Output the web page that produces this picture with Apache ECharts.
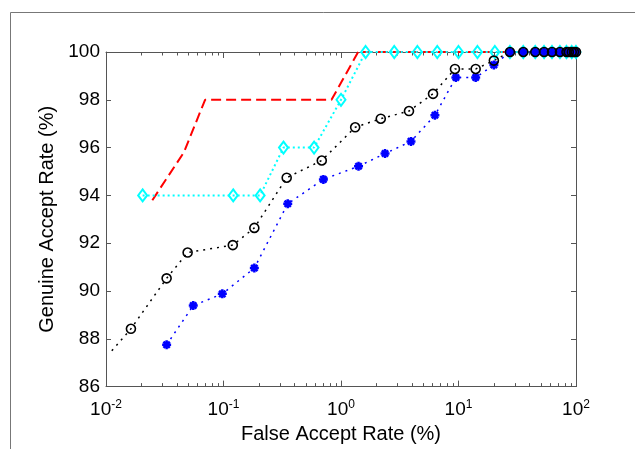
<!DOCTYPE html>
<html>
<head>
<meta charset="utf-8">
<script src="https://cdn.jsdelivr.net/npm/echarts@6/dist/echarts.min.js"></script>
<style>
  html, body { margin: 0; padding: 0; background: #fff; }
  #chart { width: 635px; height: 449px; }
</style>
</head>
<body>
<div id="chart"></div>
<script>
// [FAR %, GAR %]
var redDashed = [[0.0248, 93.8], [0.046, 95.8], [0.0697, 98], [0.83, 98], [1.4, 100], [100, 100]];
var cyanDiamonds = [[0.0205, 94], [0.121, 94], [0.205, 94], [0.324, 96], [0.59, 96], [1.0, 98], [1.62, 100],
    [2.84, 100], [4.47, 100], [6.6, 100], [10, 100], [14.5, 100], [20.4, 100], [27.4, 100], [35.6, 100],
    [45, 100], [53.5, 100], [62.5, 100], [73, 100], [83, 100], [92, 100], [100, 100]];
var blueStars = [[0.0328, 87.75], [0.0553, 89.39], [0.0977, 89.88], [0.183, 90.96], [0.352, 93.65], [0.708, 94.67],
    [1.41, 95.22], [2.37, 95.75], [3.94, 96.26], [6.3, 97.35], [9.5, 98.93], [14.0, 98.93], [20.0, 99.46],
    [27.4, 100], [35.6, 100], [45, 100], [53.5, 100], [62.5, 100], [73, 100], [83, 100], [87, 100], [92, 100], [96, 100], [100, 100]];
var blackCircles = [[0.0112, 87.5], [0.0163, 88.42], [0.0328, 90.53], [0.0495, 91.61], [0.12, 91.92], [0.183, 92.64],
    [0.345, 94.74], [0.686, 95.46], [1.32, 96.85], [2.18, 97.21], [3.79, 97.53], [6.07, 98.25], [9.33, 99.29],
    [14.0, 99.29], [20.0, 99.64], [27.4, 100], [35.6, 100], [45, 100], [53.5, 100], [62.5, 100], [73, 100],
    [83, 100], [87, 100], [92, 100], [96, 100], [100, 100]];
var minorTicks = [0.02, 0.03, 0.04, 0.05, 0.06, 0.07, 0.08, 0.09,
    0.2, 0.3, 0.4, 0.5, 0.6, 0.7, 0.8, 0.9,
    2, 3, 4, 5, 6, 7, 8, 9,
    20, 30, 40, 50, 60, 70, 80, 90];
var yMin = 86, yMax = 100, yStep = 2;

var font = "'Liberation Sans', Arial, sans-serif";
var axisCol = '#555';
var asterisk = 'path://M0,-10L0,10M-10,0L10,0M-7,-7L7,7M-7,7L7,-7';

var myChart = echarts.init(document.getElementById('chart'));

function logLabel(v) {
    var e = Math.round(Math.log(v) / Math.LN10);
    return '{b|10}{s|' + e + '}';
}

var option = {
    animation: false,
    backgroundColor: '#fff',
    graphic: [{
        type: 'rect',
        shape: { x: 10.5, y: 12.5, width: 700, height: 500 },
        style: { fill: 'none', stroke: '#777', lineWidth: 1 },
        silent: true
    }],
    grid: { left: 106, top: 52, right: 59, bottom: 61 },
    xAxis: [{
        type: 'log',
        logBase: 10,
        min: 0.01,
        max: 100,
        position: 'bottom',
        name: 'False Accept Rate (%)',
        nameLocation: 'middle',
        nameGap: 35,
        nameTextStyle: { fontFamily: font, fontSize: 20, color: '#000' },
        axisLine: { lineStyle: { color: axisCol, width: 1 } },
        axisTick: { inside: true, length: 6, lineStyle: { color: axisCol } },
        axisLabel: {
            margin: 12,
            formatter: logLabel,
            rich: {
                b: { fontFamily: font, fontSize: 19, color: '#000', lineHeight: 22 },
                s: { fontFamily: font, fontSize: 12, color: '#000', lineHeight: 6, verticalAlign: 'top' }
            }
        },
        splitLine: { show: false }
    }, {
        type: 'log',
        logBase: 10,
        min: 0.01,
        max: 100,
        position: 'top',
        axisLine: { lineStyle: { color: axisCol, width: 1 } },
        axisTick: { inside: true, length: 6, lineStyle: { color: axisCol } },
        axisLabel: { show: false },
        splitLine: { show: false }
    }],
    yAxis: [{
        type: 'value',
        min: yMin,
        max: yMax,
        interval: yStep,
        position: 'left',
        name: 'Genuine Accept Rate (%)',
        nameLocation: 'middle',
        nameGap: 44,
        nameTextStyle: { fontFamily: font, fontSize: 20, color: '#000' },
        axisLine: { show: true, lineStyle: { color: axisCol, width: 1 } },
        axisTick: { show: true, inside: true, length: 5, lineStyle: { color: axisCol } },
        axisLabel: { margin: 6, fontFamily: font, fontSize: 19, color: '#000' },
        splitLine: { show: false }
    }, {
        type: 'value',
        min: yMin,
        max: yMax,
        interval: yStep,
        position: 'right',
        axisLine: { show: true, lineStyle: { color: axisCol, width: 1 } },
        axisTick: { show: true, inside: true, length: 5, lineStyle: { color: axisCol } },
        axisLabel: { show: false },
        splitLine: { show: false }
    }],
    series: [{
        type: 'custom',
        silent: true,
        clip: false,
        data: minorTicks.map(function (v) { return [v, yMin]; }),
        renderItem: function (params, api) {
            var v = api.value(0);
            var b = api.coord([v, yMin]);
            var t = api.coord([v, yMax]);
            var x = Math.round(b[0]) + 0.5;
            var st = { stroke: axisCol, lineWidth: 1 };
            return {
                type: 'group',
                children: [
                    { type: 'line', shape: { x1: x, y1: b[1], x2: x, y2: b[1] - 3.5 }, style: st },
                    { type: 'line', shape: { x1: x, y1: t[1], x2: x, y2: t[1] + 3.5 }, style: st }
                ]
            };
        }
    }, {
        name: 'red',
        type: 'line',
        data: redDashed,
        showSymbol: false,
        symbol: 'none',
        lineStyle: { color: '#ff0000', width: 2, type: [10, 5] }
    }, {
        name: 'cyan',
        type: 'line',
        data: cyanDiamonds,
        symbol: 'diamond',
        symbolSize: [9, 12],
        itemStyle: { color: 'rgba(255,255,255,0)', borderColor: '#00ffff', borderWidth: 2 },
        lineStyle: { color: '#00ffff', width: 2, type: [2, 3] }
    }, {
        name: 'blue',
        type: 'line',
        data: blueStars,
        symbol: asterisk,
        symbolSize: 9,
        itemStyle: { color: '#0000ff', borderColor: '#0000ff', borderWidth: 2.5 },
        lineStyle: { color: '#0000ff', width: 1.5, type: [2, 5] }
    }, {
        name: 'black',
        type: 'line',
        data: blackCircles.map(function (d, i) {
            return i === 0 ? { value: d, symbol: 'none' } : d;
        }),
        symbol: 'circle',
        symbolSize: 9,
        itemStyle: { color: 'rgba(255,255,255,0)', borderColor: '#000', borderWidth: 1.6 },
        lineStyle: { color: '#000', width: 1.5, type: [2, 5] }
    }]
};

myChart.setOption(option);
window.addEventListener("resize", () => {
    myChart.resize();
});
</script>
</body>
</html>
